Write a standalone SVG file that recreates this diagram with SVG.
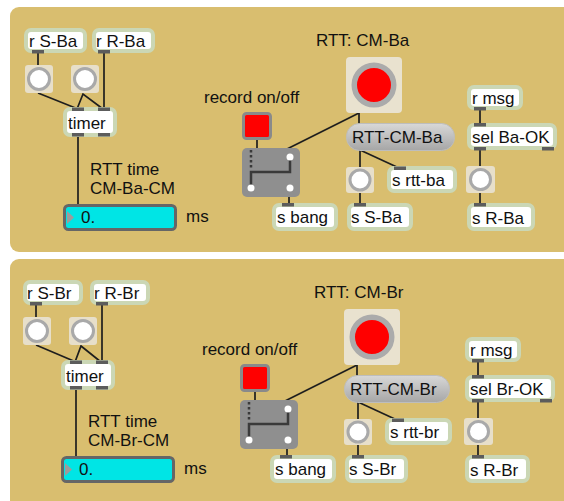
<svg xmlns="http://www.w3.org/2000/svg" width="564" height="501" viewBox="0 0 564 501">
  <defs>
    <linearGradient id="msgFill" x1="0" y1="0" x2="0" y2="1">
      <stop offset="0" stop-color="#D8D8D8"/>
      <stop offset="1" stop-color="#A6A6A6"/>
    </linearGradient>
    <style>
      .panel { fill: #D9BE6F; }
      .obj { fill: #FFFFFF; stroke: #CBD7B5; stroke-width: 4; }
      .tab { fill: #5C5C5C; }
      .cord { stroke: #1E1E1E; stroke-width: 1.7; fill: none; }
      .t { font-family: "Liberation Sans", Arial, sans-serif; font-size: 17px; fill: #111111; }
      .btnbg { fill: #E7DFCA; }
      .ring { fill: #FFFFFF; stroke: #A9A9A9; stroke-width: 3; }
      .bigbg { fill: #E9E2CF; }
      .bigring { fill: #FF0000; stroke: #ABABAB; stroke-width: 5.5; }
      .tog { fill: #FF0000; stroke: #8A8A8A; stroke-width: 3; }
      .gate { fill: #8F8F8F; }
      .gline { stroke: #3A3A3A; stroke-width: 2.5; fill: none; }
      .gdot { fill: #FFFFFF; }
      .num { fill: #00E5E5; stroke: #666666; stroke-width: 3; }
      .tri { fill: #9C9C9C; }
      .msg { fill: url(#msgFill); stroke: #BDBDBD; stroke-width: 1; }
    </style>
  </defs>

  <rect width="564" height="501" fill="#FFFFFF"/>

  <!-- patcher backgrounds -->
  <rect class="panel" x="10" y="7" width="580" height="245" rx="9"/>
  <rect class="panel" x="10" y="259" width="580" height="262" rx="9"/>

  <!-- ===== CM-Ba ===== -->
  <g id="patch-ba">
    <g id="cords-ba">
      <line class="cord" x1="38" y1="53" x2="38" y2="65"/>
      <line class="cord" x1="104" y1="53" x2="104" y2="109"/>
      <line class="cord" x1="38" y1="93" x2="78" y2="109"/>
      <polyline class="cord" points="77,109 83,94 103,109"/>
      <line class="cord" x1="78" y1="135" x2="78" y2="205"/>
      <line class="cord" x1="257" y1="139" x2="257" y2="149"/>
      <line class="cord" x1="359" y1="113" x2="287" y2="149"/>
      <line class="cord" x1="359" y1="113" x2="359" y2="124"/>
      <line class="cord" x1="289" y1="196" x2="289" y2="204"/>
      <line class="cord" x1="360" y1="150" x2="360" y2="167"/>
      <line class="cord" x1="360" y1="150" x2="399" y2="168"/>
      <line class="cord" x1="360" y1="193" x2="360" y2="204"/>
      <line class="cord" x1="480" y1="109" x2="480" y2="124"/>
      <line class="cord" x1="480" y1="149" x2="480" y2="166"/>
      <line class="cord" x1="480" y1="193" x2="480" y2="204"/>
    </g>

    <g id="r-s-ba">
      <rect class="obj" x="26" y="30" width="59" height="21" rx="5"/>
      <rect class="tab" x="32" y="50" width="12" height="3.5"/>
      <text class="t" x="29" y="46.5">r S-Ba</text>
    </g>
    <g id="r-r-ba">
      <rect class="obj" x="94" y="30" width="59" height="21" rx="5"/>
      <rect class="tab" x="98" y="50" width="12" height="3.5"/>
      <text class="t" x="96" y="46.5">r R-Ba</text>
    </g>
    <g id="btn-send-ba">
      <rect class="btnbg" x="25" y="65" width="28" height="28" rx="3"/>
      <circle class="ring" cx="39" cy="79" r="10.5"/>
    </g>
    <g id="btn-recv-ba">
      <rect class="btnbg" x="71" y="65" width="28" height="28" rx="3"/>
      <circle class="ring" cx="85" cy="79" r="10.5"/>
    </g>
    <g id="timer-ba">
      <rect class="obj" x="65" y="109" width="50" height="26" rx="5"/>
      <rect class="tab" x="72" y="107.5" width="12" height="3.5"/>
      <rect class="tab" x="98" y="107.5" width="12" height="3.5"/>
      <rect class="tab" x="72" y="133" width="12" height="3.5"/>
      <rect class="tab" x="98" y="133" width="12" height="3.5"/>
      <text class="t" x="68" y="128.5">timer</text>
    </g>
    <g id="label-time-ba">
      <text class="t" x="90" y="174.5">RTT time</text>
      <text class="t" x="90" y="193.5">CM-Ba-CM</text>
    </g>
    <g id="num-ba">
      <rect class="num" x="64.5" y="205.5" width="111" height="24" rx="4"/>
      <polygon class="tri" points="67,211 74,217.5 67,224"/>
      <text class="t" x="81" y="223">0.</text>
    </g>
    <text class="t" x="186" y="222">ms</text>

    <text class="t" x="204" y="103">record on/off</text>
    <g id="toggle-ba">
      <rect class="tog" x="243.5" y="113.5" width="27" height="25" rx="3"/>
    </g>
    <g id="gate-ba">
      <rect class="gate" x="242" y="148" width="58" height="49" rx="5"/>
      <line class="gline" x1="251" y1="150" x2="251" y2="168" stroke-dasharray="2.5,2.5"/>
      <polyline class="gline" points="290,157 290,172 251,172 251,188"/>
      <circle class="gdot" cx="290" cy="157" r="3.5"/>
      <circle class="gdot" cx="251" cy="188" r="3.5"/>
      <circle class="gdot" cx="290" cy="188" r="3.5"/>
    </g>
    <g id="s-bang-ba">
      <rect class="obj" x="274" y="205" width="62" height="24" rx="5"/>
      <rect class="tab" x="282" y="203" width="12" height="3.5"/>
      <text class="t" x="277" y="223">s bang</text>
    </g>

    <text class="t" x="316" y="46">RTT: CM-Ba</text>
    <g id="bigbtn-ba">
      <rect class="bigbg" x="346" y="57" width="56" height="56" rx="4"/>
      <circle class="bigring" cx="374" cy="85" r="19.75"/>
    </g>
    <g id="msg-ba">
      <rect class="msg" x="346.5" y="123.5" width="108" height="27" rx="13"/>
      <text class="t" x="352" y="143">RTT-CM-Ba</text>
    </g>
    <g id="btn-out-ba">
      <rect class="btnbg" x="346" y="167" width="28" height="26" rx="3"/>
      <circle class="ring" cx="360" cy="180" r="10"/>
    </g>
    <g id="s-rtt-ba">
      <rect class="obj" x="389" y="168" width="66" height="23" rx="5"/>
      <rect class="tab" x="394" y="166.5" width="12" height="3.5"/>
      <text class="t" x="392" y="186">s rtt-ba</text>
    </g>
    <g id="s-s-ba">
      <rect class="obj" x="349" y="205" width="62" height="24" rx="5"/>
      <rect class="tab" x="354" y="203" width="12" height="3.5"/>
      <text class="t" x="351" y="223">s S-Ba</text>
    </g>

    <g id="r-msg-ba">
      <rect class="obj" x="469" y="87" width="52" height="21" rx="5"/>
      <rect class="tab" x="474" y="107" width="12" height="3.5"/>
      <text class="t" x="472" y="103.5">r msg</text>
    </g>
    <g id="sel-ba">
      <rect class="obj" x="469" y="125" width="86" height="23" rx="5"/>
      <rect class="tab" x="474" y="123" width="12" height="3.5"/>
      <rect class="tab" x="474" y="147" width="12" height="3.5"/>
      <rect class="tab" x="542" y="147" width="12" height="3.5"/>
      <text class="t" x="472" y="143">sel Ba-OK</text>
    </g>
    <g id="btn-ok-ba">
      <rect class="btnbg" x="466" y="166" width="29" height="27" rx="3"/>
      <circle class="ring" cx="480.5" cy="179.5" r="10"/>
    </g>
    <g id="s-r-ba">
      <rect class="obj" x="469" y="205" width="64" height="24" rx="5"/>
      <rect class="tab" x="474" y="203" width="12" height="3.5"/>
      <text class="t" x="472" y="223.5">s R-Ba</text>
    </g>
  </g>

  <!-- ===== CM-Br ===== -->
  <g id="patch-br" transform="translate(-2,252)">
    <g id="cords-br">
      <line class="cord" x1="38" y1="53" x2="38" y2="65"/>
      <line class="cord" x1="104" y1="53" x2="104" y2="110"/>
      <line class="cord" x1="38" y1="93" x2="78" y2="110"/>
      <polyline class="cord" points="77,110 83,94 103,110"/>
      <line class="cord" x1="78" y1="136" x2="78" y2="205"/>
      <line class="cord" x1="257" y1="139" x2="257" y2="149"/>
      <line class="cord" x1="359" y1="113" x2="287" y2="149"/>
      <line class="cord" x1="359" y1="113" x2="359" y2="124"/>
      <line class="cord" x1="289" y1="196" x2="289" y2="204"/>
      <line class="cord" x1="360" y1="150" x2="360" y2="167"/>
      <line class="cord" x1="360" y1="150" x2="399" y2="168"/>
      <line class="cord" x1="360" y1="193" x2="360" y2="204"/>
      <line class="cord" x1="480" y1="109" x2="480" y2="124"/>
      <line class="cord" x1="480" y1="149" x2="480" y2="166"/>
      <line class="cord" x1="480" y1="193" x2="480" y2="204"/>
    </g>

    <g id="r-s-br">
      <rect class="obj" x="27" y="30" width="56" height="21" rx="5"/>
      <rect class="tab" x="32" y="50" width="12" height="3.5"/>
      <text class="t" x="29" y="46.5">r S-Br</text>
    </g>
    <g id="r-r-br">
      <rect class="obj" x="94" y="30" width="56" height="21" rx="5"/>
      <rect class="tab" x="98" y="50" width="12" height="3.5"/>
      <text class="t" x="96" y="46.5">r R-Br</text>
    </g>
    <g id="btn-send-br">
      <rect class="btnbg" x="25" y="65" width="28" height="28" rx="3"/>
      <circle class="ring" cx="39" cy="79" r="10.5"/>
    </g>
    <g id="btn-recv-br">
      <rect class="btnbg" x="71" y="65" width="28" height="28" rx="3"/>
      <circle class="ring" cx="85" cy="79" r="10.5"/>
    </g>
    <g id="timer-br">
      <rect class="obj" x="65" y="110" width="50" height="26" rx="5"/>
      <rect class="tab" x="72" y="108.5" width="12" height="3.5"/>
      <rect class="tab" x="98" y="108.5" width="12" height="3.5"/>
      <rect class="tab" x="72" y="134" width="12" height="3.5"/>
      <rect class="tab" x="98" y="134" width="12" height="3.5"/>
      <text class="t" x="68" y="129.5">timer</text>
    </g>
    <g id="label-time-br">
      <text class="t" x="90" y="174.5">RTT time</text>
      <text class="t" x="90" y="193.5">CM-Br-CM</text>
    </g>
    <g id="num-br">
      <rect class="num" x="64.5" y="205.5" width="111" height="24" rx="4"/>
      <polygon class="tri" points="67,211 74,217.5 67,224"/>
      <text class="t" x="81" y="223">0.</text>
    </g>
    <text class="t" x="186" y="222">ms</text>

    <text class="t" x="204" y="103">record on/off</text>
    <g id="toggle-br">
      <rect class="tog" x="243.5" y="113.5" width="27" height="25" rx="3"/>
    </g>
    <g id="gate-br">
      <rect class="gate" x="242" y="148" width="58" height="49" rx="5"/>
      <line class="gline" x1="251" y1="150" x2="251" y2="168" stroke-dasharray="2.5,2.5"/>
      <polyline class="gline" points="290,157 290,172 251,172 251,188"/>
      <circle class="gdot" cx="290" cy="157" r="3.5"/>
      <circle class="gdot" cx="251" cy="188" r="3.5"/>
      <circle class="gdot" cx="290" cy="188" r="3.5"/>
    </g>
    <g id="s-bang-br">
      <rect class="obj" x="274" y="205" width="62" height="24" rx="5"/>
      <rect class="tab" x="282" y="203" width="12" height="3.5"/>
      <text class="t" x="277" y="223">s bang</text>
    </g>

    <text class="t" x="316" y="46">RTT: CM-Br</text>
    <g id="bigbtn-br">
      <rect class="bigbg" x="346" y="57" width="56" height="56" rx="4"/>
      <circle class="bigring" cx="374" cy="85" r="19.75"/>
    </g>
    <g id="msg-br">
      <rect class="msg" x="346.5" y="123.5" width="105" height="27" rx="13"/>
      <text class="t" x="352" y="143">RTT-CM-Br</text>
    </g>
    <g id="btn-out-br">
      <rect class="btnbg" x="346" y="167" width="28" height="26" rx="3"/>
      <circle class="ring" cx="360" cy="180" r="10"/>
    </g>
    <g id="s-rtt-br">
      <rect class="obj" x="389" y="168" width="63" height="23" rx="5"/>
      <rect class="tab" x="394" y="166.5" width="12" height="3.5"/>
      <text class="t" x="392" y="186">s rtt-br</text>
    </g>
    <g id="s-s-br">
      <rect class="obj" x="349" y="205" width="59" height="24" rx="5"/>
      <rect class="tab" x="354" y="203" width="12" height="3.5"/>
      <text class="t" x="351" y="223">s S-Br</text>
    </g>

    <g id="r-msg-br">
      <rect class="obj" x="469" y="87" width="52" height="21" rx="5"/>
      <rect class="tab" x="474" y="107" width="12" height="3.5"/>
      <text class="t" x="472" y="103.5">r msg</text>
    </g>
    <g id="sel-br">
      <rect class="obj" x="469" y="125" width="86" height="23" rx="5"/>
      <rect class="tab" x="474" y="123" width="12" height="3.5"/>
      <rect class="tab" x="474" y="147" width="12" height="3.5"/>
      <rect class="tab" x="542" y="147" width="12" height="3.5"/>
      <text class="t" x="472" y="143">sel Br-OK</text>
    </g>
    <g id="btn-ok-br">
      <rect class="btnbg" x="466" y="166" width="29" height="27" rx="3"/>
      <circle class="ring" cx="480.5" cy="179.5" r="10"/>
    </g>
    <g id="s-r-br">
      <rect class="obj" x="469" y="205" width="61" height="24" rx="5"/>
      <rect class="tab" x="474" y="203" width="12" height="3.5"/>
      <text class="t" x="472" y="223.5">s R-Br</text>
    </g>
  </g>
</svg>
